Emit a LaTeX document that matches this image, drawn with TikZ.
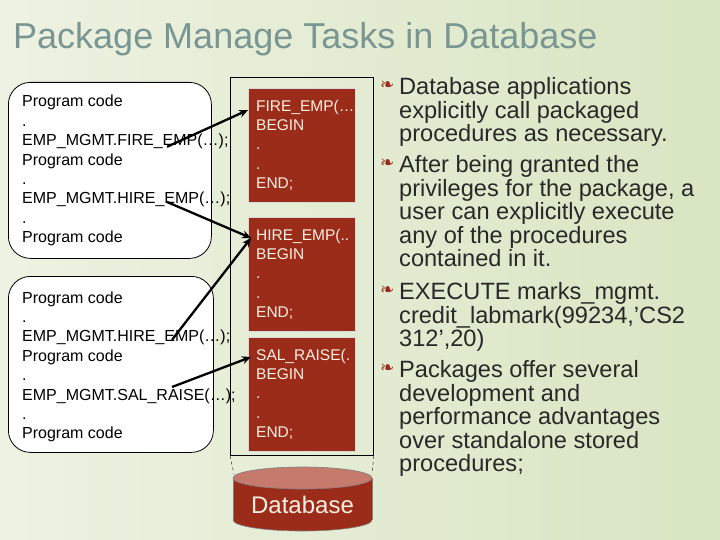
\documentclass[tikz,border=0pt]{standalone}
\usepackage{fontspec}
\setmainfont{Liberation Sans}
\newfontfamily\bulletfont{DejaVu Sans}
\usetikzlibrary{arrows.meta, positioning, calc}
\definecolor{slidebgl}{RGB}{238, 242, 226}
\definecolor{slidebgr}{RGB}{216, 229, 194}
\definecolor{titlegray}{RGB}{122, 150, 146}
\definecolor{pkgred}{RGB}{156, 44, 26}
\definecolor{pkgtop}{RGB}{198, 122, 110}
\definecolor{pkgtext}{RGB}{250, 240, 226}
\definecolor{bodytext}{RGB}{40, 40, 40}

\tikzset{
  codeline/.style={anchor=base west, inner sep=0pt, font=\fontsize{16}{19.4}\selectfont},
  progbox/.style={draw, line width=0.8pt, fill=white, rounded corners=22pt, anchor=north west},
  procbox/.style={draw=white!70!gray, fill=pkgred, text=pkgtext, anchor=north west,
    minimum width=107pt, minimum height=114pt, text width=91pt, inner xsep=8pt,
    align=left, font=\fontsize{15.5}{19.4}\selectfont},
  callarrow/.style={-{Stealth[length=9pt, width=8pt]}, line width=2.3pt},
  bullettext/.style={anchor=north west, inner sep=0pt, align=left, text=bodytext,
    font=\fontsize{23.6}{23.4}\selectfont},
  bulletmark/.style={anchor=west, inner sep=0pt, text=pkgred, font=\bulletfont\fontsize{17}{17}\selectfont},
}

\begin{document}
\begin{tikzpicture}[x=1pt, y=-1pt]
    \useasboundingbox (0,0) rectangle (720,540);
    % Slide background
    \shade[left color=slidebgl, right color=slidebgr] (0,0) rectangle (720,540);
    \node[anchor=base west, inner sep=0pt, text=titlegray, font=\fontsize{36}{36}\selectfont] (title) at (13,49) {Package Manage Tasks in Database};

    % Application programs
    \node[progbox, minimum width=203pt, minimum height=176pt] (progA) at (8,82) {};
    \node[progbox, minimum width=205pt, minimum height=176pt] (progB) at (8,276) {};
    \foreach \txt [count=\i] in {{Program code}, {.}, {EMP\_MGMT.FIRE\_EMP(…);}, {Program code}, {.}, {EMP\_MGMT.HIRE\_EMP(…);}, {.}, {Program code}}
        \node[codeline] (callA-\i) at (22,{107+19.4*(\i-1)}) {\txt};
    \foreach \txt [count=\i] in {{Program code}, {.}, {EMP\_MGMT.HIRE\_EMP(…);}, {Program code}, {.}, {EMP\_MGMT.SAL\_RAISE(…);}, {.}, {Program code}}
        \node[codeline] (callB-\i) at (22,{303+19.4*(\i-1)}) {\txt};

    % Package with its procedures
    \node[draw, line width=0.8pt, minimum width=143pt, minimum height=378pt, anchor=north west] (pkg) at (230,77) {};
    \node[procbox] (fire) at (248,88) {FIRE\_EMP(…\\BEGIN\\.\\.\\END;};
    \node[procbox] (hire) at (248,217) {HIRE\_EMP(..\\BEGIN\\.\\.\\END;};
    \node[procbox] (sal) at (248,337) {SAL\_RAISE(.\\BEGIN\\.\\.\\END;};

    % Calls
    \coordinate (fromfire) at ([xshift=145pt, yshift=-1pt]callA-3.base west);
    \coordinate (fromhireA) at ([xshift=145pt, yshift=2pt]callA-6.base west);
    \coordinate (fromhireB) at ([xshift=150pt, yshift=2pt]callB-3.base west);
    \coordinate (fromsal) at ([xshift=150pt, yshift=13pt]callB-6.base west);
    \draw[callarrow] (fromfire) -- ([yshift=-22pt]fire.north west);
    \draw[callarrow] (fromhireA) -- ([yshift=-21pt, xshift=3pt]hire.north west);
    \draw[callarrow] (fromhireB) -- ([yshift=-21pt, xshift=3pt]hire.north west);
    \draw[callarrow] (fromsal) -- ([yshift=-20pt, xshift=3pt]sal.north west);

    % Database cylinder
    \fill[pkgred] (302.5,520) ellipse (69.5 and 11);
    \draw[gray, line width=0.6pt] (302.5,520) ellipse (69.5 and 11);
    \fill[pkgred] (233,478) rectangle (372,520);
    \draw[gray, line width=0.6pt] (233,478) -- (233,520) (372,478) -- (372,520);
    \filldraw[fill=pkgtop, draw=gray, line width=0.6pt] (302.5,478) ellipse (69.5 and 11);
    \node[text=pkgtext, font=\fontsize{24}{24}\selectfont] (db) at (302.5,505) {Database};
    \coordinate (dbleft) at (234,474);
    \coordinate (dbright) at (372,474);
    \draw[dashed, thin] (pkg.south west) -- (dbleft);
    \draw[dashed, thin] (pkg.south east) -- (dbright);

    % Bullets
    \node[bulletmark] (mark1) at (380,86) {❧};
    \node[bullettext] (item1) at (399,77.5) {Database applications\\explicitly call packaged\\procedures as necessary.};
    \node[bulletmark] (mark2) at (380,164) {❧};
    \node[bullettext] (item2) at (399,155.5) {After being granted the\\privileges for the package, a\\user can explicitly execute\\any of the procedures\\contained in it.};
    \node[bulletmark] (mark3) at (380,291) {❧};
    \node[bullettext] (item3) at (399,282.5) {EXECUTE marks\_mgmt.\\credit\_labmark(99234,’CS2\\312’,20)};
    \node[bulletmark] (mark4) at (380,369) {❧};
    \node[bullettext] (item4) at (399,360.5) {Packages offer several\\development and\\performance advantages\\over standalone stored\\procedures;};
\end{tikzpicture}
\end{document}
